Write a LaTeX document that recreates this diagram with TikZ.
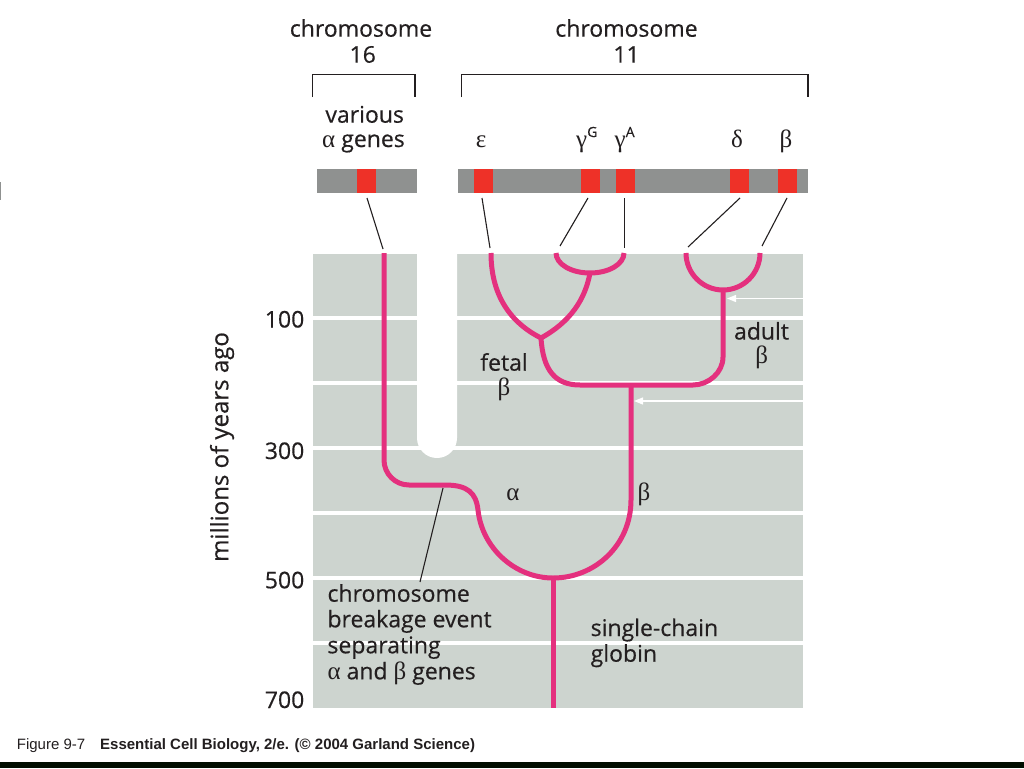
\documentclass[tikz,border=0pt]{standalone}
\usepackage{fontspec}
\setmainfont{Open Sans}[FakeBold=0.4]
\newfontfamily\grkfam{Liberation Serif}
\newfontfamily\capfam{Liberation Sans}
\usetikzlibrary{arrows.meta}
\definecolor{panelgray}{HTML}{CDD4CF}
\definecolor{bargray}{HTML}{8F9190}
\definecolor{genered}{HTML}{EE3128}
\definecolor{treepink}{HTML}{E4307E}
\definecolor{txt}{HTML}{231F20}
\newcommand\lblfont{\rmfamily\fontsize{23}{27}\selectfont}
\newcommand\grkfont{\grkfam\fontsize{25}{27}\selectfont}
\newcommand\supfont{\rmfamily\fontsize{14}{14}\selectfont}
\newcommand\capsize{\capfam\fontsize{15}{15}\selectfont}
\begin{document}
\begin{tikzpicture}[x=1pt,y=-1pt,
  lab/.style={font=\lblfont, text=txt, inner sep=0pt, anchor=base},
  labw/.style={font=\lblfont, text=txt, inner sep=0pt, anchor=base west},
  grk/.style={font=\grkfont, text=txt, inner sep=0pt, anchor=base},
  axnum/.style={font=\lblfont, text=txt, inner sep=0pt, anchor=base east},
  bracket/.style={draw=txt, line width=1.4pt},
  chrbar/.style={fill=bargray, draw=none},
  gene/.style={fill=genered, draw=none, inner sep=0pt, minimum width=19pt, minimum height=23.5pt},
  link/.style={draw=txt, line width=1.1pt},
  tree/.style={draw=treepink, line width=5pt, line join=round},
  band/.style={draw=white, line width=4pt},
  warrow/.style={draw=white, line width=1.3pt, -{Triangle[length=9pt,width=7pt]}},
  capt/.style={font=\capsize, text=txt, inner sep=0pt, anchor=base west}]
\useasboundingbox (0,0) rectangle (1024,768);
\fill[white] (0,0) rectangle (1024,768);

% small mark at left edge and bottom black bar
\fill[bargray] (0,182) rectangle (1.4,200);
\fill[black!95!green] (0,761.5) rectangle (1024,768);

% chromosome headings
\node[lab] (c16a) at (361,36.7) {chromosome};
\node[lab] (c16b) at (362.7,62.7) {16};
\node[lab] (c11a) at (626.5,36.7) {chromosome};
\node[lab] (c11b) at (626.5,62.7) {11};

% brackets
\draw[bracket] (312.5,97) -- (312.5,74.5) -- (415,74.5) -- (415,97);
\draw[bracket] (461.5,97) -- (461.5,74.5) -- (808,74.5) -- (808,97);

% gene labels
\node[lab] (var) at (364.7,122.7) {various};
\node[lab] (agenes) at (363.5,147) {{\grkfont α} genes};
\node[grk] (leps) at (481,147) {ε};
\node[grk, anchor=base west] (lgG) at (576,147) {γ\raisebox{10pt}{\supfont G}};
\node[grk, anchor=base west] (lgA) at (614.5,147) {γ\raisebox{10pt}{\supfont A}};
\node[grk] (ldel) at (737,147) {δ};
\node[grk] (lbet) at (786,147) {β};

% chromosome bars
\fill[chrbar] (316.5,169) rectangle (416.5,192.5);
\fill[chrbar] (458,169) rectangle (808,192.5);
\node[gene] (gA) at (366.5,180.75) {};
\node[gene] (gE) at (483,180.75) {};
\node[gene] (gG) at (590.5,180.75) {};
\node[gene] (gGA) at (625.5,180.75) {};
\node[gene] (gD) at (739,180.75) {};
\node[gene] (gB) at (787.5,180.75) {};

% time panel
\fill[panelgray] (313,253.5) rectangle (803,708);
\fill[white] (417,253) -- (417,438) arc (180:0:20) -- (457,253) -- cycle;
\foreach \yy in {318,383,448,513,578,643} \draw[band] (313,\yy) -- (803,\yy);

% axis
\node[axnum] (n100) at (304.5,327.5) {100};
\node[axnum] (n300) at (304.5,459) {300};
\node[axnum] (n500) at (304.5,588.3) {500};
\node[axnum] (n700) at (304.5,708) {700};
\node[font=\rmfamily\fontsize{24}{27}\selectfont, text=txt, rotate=90, inner sep=0pt] (yl) at (222,447) {millions of years ago};

% tree
\coordinate (tA) at (384,253);
\coordinate (tE) at (491,253);
\coordinate (tG) at (556,253);
\coordinate (tGA) at (624,253);
\coordinate (tD) at (686,253);
\coordinate (tB) at (760,253);
\coordinate (nroot) at (553,578);
\coordinate (nbeta) at (631,385);
\coordinate (nfetal) at (541,338);
\coordinate (ngam) at (590,273);
\coordinate (nadult) at (723,290);

\draw[tree] (tA) -- (384,460) .. controls (384,473.8) and (395.2,485) .. (409,485) -- (445,485)
  .. controls (468,485) and (476,493) .. (478,510) .. controls (482,548) and (515,578) .. (nroot)
  .. controls (595,578) and (631,545) .. (631,500) -- (nbeta);
\draw[tree] (nroot) -- (553,708);
\draw[tree] (tE) .. controls (491,300) and (515,325) .. (nfetal)
  .. controls (543,370) and (555,385) .. (580,385) -- (693,385)
  .. controls (708.5,385) and (723,372.5) .. (723,357) -- (nadult);
\draw[tree] (ngam) .. controls (585,300) and (570,322) .. (nfetal);
\draw[tree] (tG) .. controls (556,264) and (571,273) .. (ngam) .. controls (609,273) and (624,264) .. (tGA);
\draw[tree] (tD) .. controls (686,273.4) and (702.6,290) .. (nadult) .. controls (743.4,290) and (760,273.4) .. (tB);

% white arrows
\coordinate (arr1s) at (803,298.5);
\coordinate (arr1e) at (727,298.5);
\coordinate (arr2s) at (803,401);
\coordinate (arr2e) at (634,401);
\draw[warrow] (arr1s) -- (arr1e);
\draw[warrow] (arr2s) -- (arr2e);

% connectors from genes to tree
\coordinate (cA) at (367,198);  \coordinate (eA) at (383,249);
\coordinate (cE) at (482,198);  \coordinate (eE) at (490,248);
\coordinate (cG) at (588,198);  \coordinate (eG) at (560,246);
\coordinate (cGA) at (624.5,198); \coordinate (eGA) at (624.5,248);
\coordinate (cD) at (740,198);  \coordinate (eD) at (688,247);
\coordinate (cB) at (787,198);  \coordinate (eB) at (762,246);
\draw[link] (cA) -- (eA);
\draw[link] (cE) -- (eE);
\draw[link] (cG) -- (eG);
\draw[link] (cGA) -- (eGA);
\draw[link] (cD) -- (eD);
\draw[link] (cB) -- (eB);

% breakage connector
\coordinate (brk) at (443,488);
\coordinate (brkt) at (420,582);
\draw[link] (brk) -- (brkt);

% tree labels
\node[lab] (fet) at (504,370.7) {fetal};
\node[grk] (fetb) at (504,395) {β};
\node[lab] (adu) at (761.5,339.5) {adult};
\node[grk] (adub) at (761.7,363) {β};
\node[grk] (la) at (513,500) {α};
\node[grk] (lb) at (644,500) {β};

\node[labw] (b1) at (327.3,601.7) {chromosome};
\node[labw] (b2) at (327.3,627.3) {breakage event};
\node[labw] (b3) at (327.3,653.3) {separating};
\node[labw] (b4) at (327.3,679.3) {{\grkfont α} and {\grkfont β} genes};

\node[labw] (s1) at (590.5,636) {single-chain};
\node[labw] (s2) at (590.5,661.7) {globin};

% caption
\node[capt] (cap1) at (16.7,749.3) {Figure 9-7};
\node[capt, font=\capsize\bfseries] (cap2) at (100,749.3) {Essential Cell Biology, 2/e. (© 2004 Garland Science)};
\end{tikzpicture}
\end{document}
